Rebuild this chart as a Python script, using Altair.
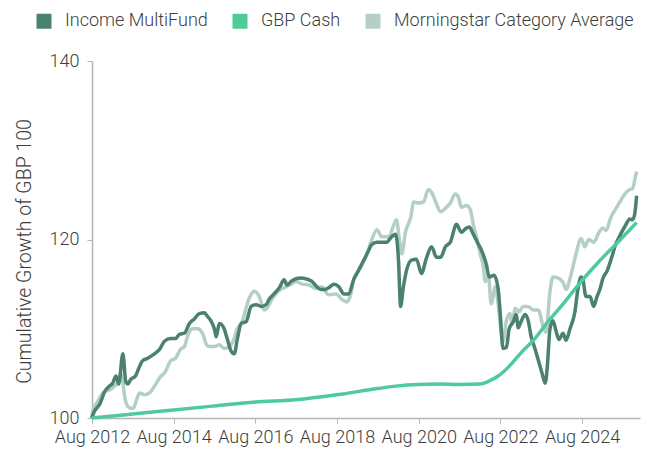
import altair as alt
import pandas as pd

series_names = ["Income MultiFund", "GBP Cash", "Morningstar Category Average"]
series_colors = ["#4b816f", "#4ecb9b", "#b4cfc4"]

# decimal-year dates and cumulative growth values
fund_t = [2012.58, 2012.65, 2012.78, 2012.90, 2013.02, 2013.09, 2013.17, 2013.24, 2013.34, 2013.41,
          2013.46, 2013.53, 2013.65, 2013.75, 2013.82, 2013.95, 2014.12, 2014.24, 2014.36, 2014.51,
          2014.63, 2014.73, 2014.85, 2014.97, 2015.09, 2015.21, 2015.34, 2015.41, 2015.48, 2015.58,
          2015.63, 2015.70, 2015.75, 2015.82, 2015.90, 2015.99, 2016.07, 2016.14, 2016.24, 2016.36,
          2016.48, 2016.60, 2016.73, 2016.85, 2016.92, 2017.04, 2017.17, 2017.29, 2017.36, 2017.46,
          2017.58, 2017.70, 2017.82, 2017.97, 2018.09, 2018.19, 2018.29, 2018.38, 2018.51, 2018.63,
          2018.75, 2018.87, 2018.99, 2019.12, 2019.24, 2019.36, 2019.43, 2019.56, 2019.68, 2019.80,
          2019.92, 2020.02, 2020.09, 2020.14, 2020.21, 2020.29, 2020.41, 2020.53, 2020.65, 2020.78,
          2020.90, 2021.02, 2021.12, 2021.24, 2021.36, 2021.51, 2021.63, 2021.73, 2021.82, 2021.92,
          2022.02, 2022.12, 2022.24, 2022.31, 2022.43, 2022.53, 2022.58, 2022.65, 2022.73, 2022.80,
          2022.90, 2022.97, 2023.02, 2023.09, 2023.19, 2023.26, 2023.34, 2023.43, 2023.53, 2023.60,
          2023.68, 2023.73, 2023.80, 2023.87, 2023.95, 2024.02, 2024.12, 2024.19, 2024.29, 2024.41,
          2024.48, 2024.56, 2024.60, 2024.68, 2024.78, 2024.87, 2024.95, 2025.02, 2025.09, 2025.21,
          2025.31, 2025.41, 2025.53, 2025.65, 2025.75, 2025.82, 2025.87, 2025.92]
fund_v = [100.0, 100.8, 101.6, 103.0, 103.6, 103.9, 104.7, 103.8, 107.2, 104.1,
          103.8, 104.3, 104.7, 105.8, 106.4, 106.7, 107.2, 107.7, 108.6, 108.9,
          108.9, 109.4, 109.5, 110.6, 111.1, 111.7, 111.8, 111.4, 111.0, 110.0,
          109.1, 110.6, 110.5, 110.0, 108.8, 107.5, 107.2, 108.8, 110.6, 110.8,
          112.5, 112.7, 112.5, 112.7, 113.3, 113.9, 114.6, 115.5, 114.9, 115.3,
          115.6, 115.7, 115.6, 115.3, 114.7, 114.4, 114.4, 114.6, 115.0, 114.7,
          113.9, 113.9, 115.5, 116.6, 117.7, 118.8, 119.4, 119.7, 119.7, 119.7,
          120.3, 120.6, 117.7, 112.5, 114.7, 116.6, 117.7, 117.8, 116.2, 118.0,
          119.2, 118.0, 118.0, 119.2, 119.7, 121.7, 120.8, 121.2, 121.4, 120.6,
          119.7, 118.8, 117.2, 115.8, 116.0, 114.4, 111.7, 107.8, 107.9, 110.0,
          110.8, 111.6, 110.1, 110.8, 111.6, 111.0, 109.1, 107.8, 106.2, 105.1,
          103.9, 105.6, 110.0, 110.9, 109.7, 108.8, 109.5, 108.7, 110.0, 111.9,
          114.4, 115.8, 115.6, 113.6, 113.6, 112.5, 113.6, 114.4, 115.6, 116.6,
          118.0, 119.5, 120.6, 121.6, 122.3, 122.2, 122.8, 124.9]

cat_t = [2012.58, 2012.60, 2012.73, 2012.85, 2012.97, 2013.04, 2013.14, 2013.21, 2013.29, 2013.34,
         2013.38, 2013.46, 2013.53, 2013.60, 2013.68, 2013.75, 2013.87, 2013.99, 2014.12, 2014.24,
         2014.38, 2014.51, 2014.63, 2014.75, 2014.85, 2014.92, 2015.04, 2015.17, 2015.29, 2015.39,
         2015.46, 2015.58, 2015.70, 2015.82, 2015.95, 2016.04, 2016.14, 2016.26, 2016.43, 2016.56,
         2016.68, 2016.80, 2016.87, 2016.99, 2017.17, 2017.34, 2017.46, 2017.58, 2017.73, 2017.90,
         2018.07, 2018.21, 2018.38, 2018.56, 2018.70, 2018.82, 2018.92, 2018.99, 2019.12, 2019.29,
         2019.43, 2019.56, 2019.68, 2019.85, 2019.97, 2020.04, 2020.12, 2020.17, 2020.26, 2020.39,
         2020.46, 2020.58, 2020.70, 2020.82, 2020.90, 2021.00, 2021.12, 2021.24, 2021.36, 2021.48,
         2021.56, 2021.63, 2021.75, 2021.85, 2021.92, 2022.00, 2022.09, 2022.17, 2022.21, 2022.29,
         2022.36, 2022.46, 2022.53, 2022.60, 2022.65, 2022.73, 2022.82, 2022.87, 2022.95, 2023.04,
         2023.14, 2023.26, 2023.39, 2023.51, 2023.63, 2023.70, 2023.80, 2023.87, 2023.99, 2024.12,
         2024.19, 2024.31, 2024.43, 2024.56, 2024.65, 2024.75, 2024.87, 2024.99, 2025.09, 2025.17,
         2025.29, 2025.39, 2025.51, 2025.63, 2025.75, 2025.82, 2025.90, 2025.92]
cat_v = [100.0, 100.8, 101.9, 102.8, 103.1, 103.2, 103.6, 103.9, 105.0, 104.1,
         102.5, 101.3, 101.1, 101.1, 102.1, 102.8, 102.6, 102.8, 103.6, 104.5,
         105.2, 106.4, 106.7, 107.7, 108.0, 109.1, 110.0, 110.0, 109.5, 108.2,
         108.0, 108.0, 108.2, 107.8, 108.0, 108.6, 110.0, 110.8, 113.4, 114.2,
         113.6, 112.1, 112.3, 113.3, 114.3, 114.7, 115.0, 115.3, 115.0, 114.9,
         114.5, 114.7, 113.8, 113.9, 113.3, 113.0, 113.9, 115.5, 116.6, 118.0,
         119.9, 121.1, 120.3, 120.3, 121.6, 122.2, 119.7, 118.4, 120.8, 122.5,
         124.2, 124.1, 124.2, 125.6, 125.3, 124.2, 123.1, 123.5, 124.1, 125.1,
         124.7, 123.6, 123.8, 123.3, 121.7, 120.3, 118.4, 116.9, 115.3, 116.0,
         112.8, 114.7, 112.7, 109.7, 108.6, 110.9, 111.7, 110.5, 112.3, 111.9,
         112.5, 112.5, 112.1, 112.1, 110.3, 109.6, 114.2, 115.8, 115.7, 115.2,
         114.4, 116.0, 118.3, 120.1, 119.2, 120.0, 119.7, 120.7, 121.3, 121.0,
         122.5, 123.3, 124.2, 125.1, 125.6, 125.7, 127.2, 127.6]

cash_t = [2012.58, 2013.58, 2014.58, 2015.58, 2016.58, 2017.58, 2018.58, 2019.58, 2020.08, 2020.58,
          2021.08, 2021.58, 2022.08, 2022.29, 2022.53, 2022.78, 2023.09, 2023.43, 2023.75, 2024.07,
          2024.49, 2024.97, 2025.46, 2025.92]
cash_v = [100.0, 100.45, 100.9, 101.35, 101.8, 102.05, 102.6, 103.3, 103.6, 103.75,
          103.8, 103.75, 103.8, 104.1, 104.7, 105.7, 107.3, 108.9, 110.8, 112.5,
          114.9, 117.4, 119.7, 121.9]

tick_years = [2012, 2014, 2016, 2018, 2020, 2022, 2024]


def to_dates(ts):
    base = pd.Timestamp("2012-01-01")
    return [(base + pd.Timedelta(days=(t - 2012) * 365.25)).strftime("%Y-%m-%d") for t in ts]


frames = []
for name, ts, vs in [(series_names[0], fund_t, fund_v),
                     (series_names[1], cash_t, cash_v),
                     (series_names[2], cat_t, cat_v)]:
    frames.append(pd.DataFrame({"date": to_dates(ts), "value": vs, "series": name}))
df = pd.concat(frames, ignore_index=True)

FONT = "Roboto"
TXT = "#3d3d3d"

color = alt.Color(
    "series:N",
    scale=alt.Scale(domain=series_names, range=series_colors),
    legend=alt.Legend(
        title=None,
        orient="none",
        legendX=-57,
        legendY=-49,
        direction="horizontal",
        columns=3,
        symbolType="square",
        symbolSize=49,
        symbolStrokeWidth=8,
        labelFont=FONT,
        labelFontSize=18,
        labelFontWeight=300,
        labelColor=TXT,
        labelOffset=12,
        columnPadding=12,
        labelLimit=400,
    ),
)

x = alt.X(
    "date:T",
    scale=alt.Scale(domain=[alt.DateTime(year=2012, month=8, date=1).to_dict(),
                            alt.DateTime(year=2026, month=1, date=1).to_dict()]),
    axis=alt.Axis(
        title=None,
        values=[alt.DateTime(year=y, month=8, date=1) for y in tick_years],
        format="%b %Y",
        labelOverlap=False,
        labelFlush=False,
        tickSize=5,
        labelPadding=5,
        grid=False,
    ),
)
y = alt.Y(
    "value:Q",
    scale=alt.Scale(domain=[100, 140], nice=False, zero=False),
    axis=alt.Axis(
        title="Cumulative Growth of GBP 100",
        values=[100, 120, 140],
        tickSize=5,
        labelPadding=8,
        titlePadding=15,
        titleY=190,
        grid=False,
    ),
)

base = alt.Chart(df).mark_line(strokeWidth=3.5, interpolate="monotone", strokeJoin="round").encode(
    x=x, y=y, color=color
)

layers = [base.transform_filter(alt.datum.series == n) for n in
          [series_names[2], series_names[0], series_names[1]]]

chart = alt.layer(*layers).properties(
    width=548,
    height=357,
    padding={"left": 84, "top": 53, "right": 5, "bottom": 32},
    autosize=alt.AutoSizeParams(type="none"),
).configure_view(stroke=None).configure_axis(
    domainColor="#b5b5b5",
    tickColor="#b5b5b5",
    domainWidth=1.5,
    labelFont=FONT,
    labelFontSize=18,
    labelFontWeight=300,
    labelColor=TXT,
    titleFont=FONT,
    titleFontSize=19.5,
    titleFontWeight=300,
    titleColor=TXT,
)

chart.save("out.html", embed_options={"renderer": "svg", "actions": False})
